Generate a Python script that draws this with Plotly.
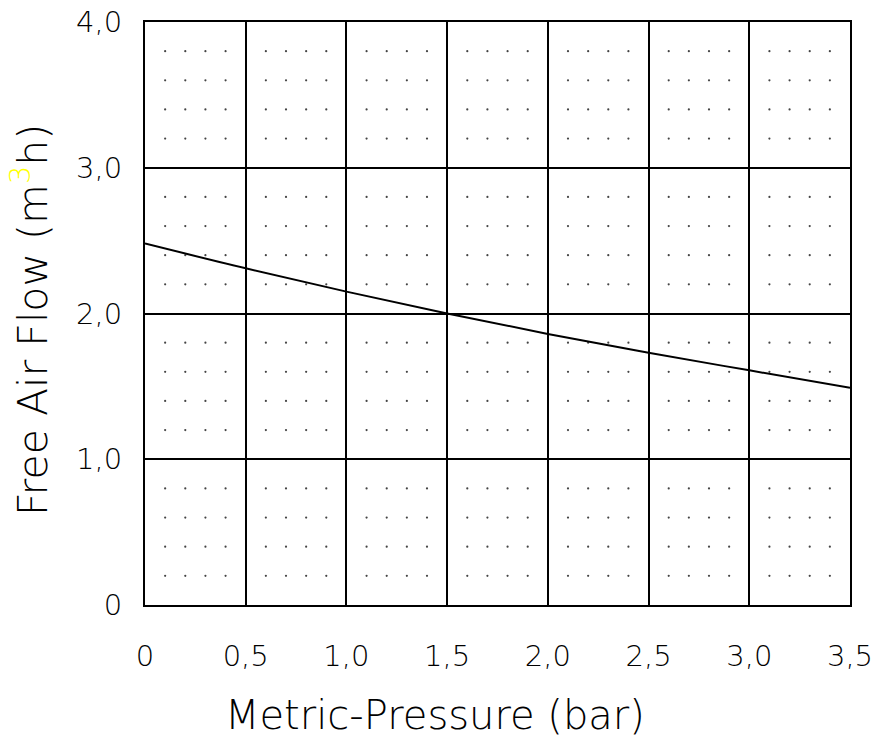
import numpy as np
import plotly.graph_objects as go

# Data
pressure_bar = [0.0, 0.5, 1.0, 1.5, 2.0, 2.5, 3.0, 3.5]
free_air_flow = [2.48, 2.31, 2.15, 2.00, 1.86, 1.73, 1.61, 1.49]

x_tick_vals = [0.0, 0.5, 1.0, 1.5, 2.0, 2.5, 3.0, 3.5]
x_tick_text = ["0", "0,5", "1,0", "1,5", "2,0", "2,5", "3,0", "3,5"]
y_tick_vals = [0, 1, 2, 3, 4]
y_tick_text = ["0", "1,0", "2,0", "3,0", "4,0"]

x_title = "Metric-Pressure (bar)"
y_title = "Free Air Flow (m<span style='color:#ffff00'><sup>3</sup></span>h)"

# Dotted background pattern (minor grid points)
dot_x_vals = [round(v, 1) for v in np.arange(0.1, 3.5, 0.1) if abs(v / 0.5 - round(v / 0.5)) > 1e-6]
dot_y_vals = [round(v, 1) for v in np.arange(0.2, 4.0, 0.2) if abs(v - round(v)) > 1e-6]
dx, dy = np.meshgrid(dot_x_vals, dot_y_vals)

FONT = "DejaVu Sans"

fig = go.Figure()
fig.add_trace(go.Scatter(
    x=dx.ravel(), y=dy.ravel(), mode="markers",
    marker=dict(size=2.2, color="#444444"),
    hoverinfo="skip", showlegend=False,
))
fig.add_trace(go.Scatter(
    x=pressure_bar, y=free_air_flow, mode="lines",
    line=dict(color="black", width=2, shape="spline"),
    showlegend=False,
))

fig.update_layout(
    width=878, height=741,
    margin=dict(l=145, r=28, t=22, b=136, autoexpand=False),
    paper_bgcolor="white", plot_bgcolor="white",
    font=dict(family=FONT, color="black", weight=300),
    xaxis=dict(
        range=[0, 3.5], tickmode="array", tickvals=x_tick_vals, ticktext=x_tick_text,
        showgrid=True, gridcolor="black", gridwidth=1.6,
        showline=True, linecolor="black", linewidth=2, mirror=True,
        ticks="", ticklabelstandoff=24, zeroline=False, automargin=False,
        tickfont=dict(size=29, family=FONT, weight=300),
    ),
    yaxis=dict(
        range=[0, 4], tickmode="array", tickvals=y_tick_vals, ticktext=y_tick_text,
        showgrid=True, gridcolor="black", gridwidth=1.6,
        showline=True, linecolor="black", linewidth=2, mirror=True,
        ticks="", ticklabelstandoff=15, zeroline=False, automargin=False,
        tickfont=dict(size=29, family=FONT, weight=300),
    ),
    annotations=[
        dict(text=x_title, xref="paper", yref="paper",
             x=(435 - 145) / 705, y=-(715 - 605) / 583,
             xanchor="center", yanchor="middle", showarrow=False,
             font=dict(size=40, family=FONT, weight=300)),
        dict(text=y_title, xref="paper", yref="paper",
             x=-(145 - 30) / 705, y=(605 - 320) / 583,
             xanchor="center", yanchor="middle", textangle=-90, showarrow=False,
             font=dict(size=41, family=FONT, weight=300)),
    ],
)

fig.write_html("out.html", config={"displayModeBar": False},
               post_script="document.body.style.margin='0';")
